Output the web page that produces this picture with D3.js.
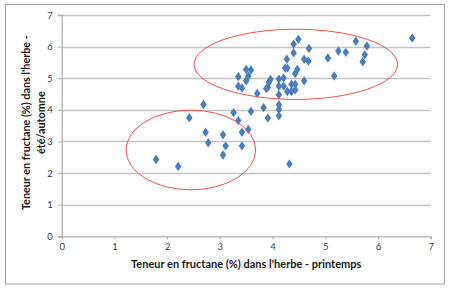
<!DOCTYPE html>
<html>
<head>
<meta charset="utf-8">
<script src="https://cdn.jsdelivr.net/npm/d3@7"></script>
<style>
  body { margin: 0; background: #fff; }
  text { font-family: Lato, "Open Sans", sans-serif; }
</style>
</head>
<body>
<div id="chart"></div>
<script>
// printemps (x) / ete-automne (y)
const springValues = [1.79, 2.21, 2.42, 2.69, 2.73, 2.78, 3.06, 3.06, 3.11, 3.26, 3.35, 3.35, 3.35, 3.42, 3.42, 3.42,
  3.50, 3.50, 3.54, 3.54, 3.59, 3.59, 3.71, 3.83, 3.88, 3.91, 3.91, 3.93, 3.96, 4.12, 4.12, 4.12, 4.12, 4.12, 4.12,
  4.21, 4.21, 4.24, 4.28, 4.27, 4.28, 4.32, 4.36, 4.36, 4.40, 4.40, 4.43, 4.43, 4.43, 4.47, 4.49, 4.60, 4.60, 4.68,
  4.69, 5.05, 5.17, 5.25, 5.39, 5.58, 5.71, 5.75, 5.79, 6.65];
const autumnValues = [2.43, 2.21, 3.75, 4.17, 3.29, 2.96, 3.21, 2.57, 2.86, 3.91, 3.66, 5.05, 4.75, 4.69, 3.29, 2.86,
  5.28, 4.92, 5.07, 3.38, 5.26, 3.95, 4.52, 4.07, 4.67, 4.71, 3.74, 4.87, 4.96, 4.97, 4.75, 4.48, 4.16, 4.01, 3.81,
  5.01, 4.75, 5.32, 5.32, 5.60, 4.58, 2.29, 4.58, 4.81, 5.80, 6.08, 5.15, 4.63, 4.81, 5.28, 6.23, 5.60, 4.92, 5.54,
  5.94, 5.64, 5.07, 5.86, 5.82, 6.17, 5.52, 5.74, 6.02, 6.27];
const xTicks = [0, 1, 2, 3, 4, 5, 6, 7];
const yTicks = [0, 1, 2, 3, 4, 5, 6, 7];
// groupes entoures: centre x, centre y, demi-axe x, demi-axe y (en unites des donnees)
const groupCx = [4.44, 2.45];
const groupCy = [5.44, 2.73];
const groupRx = [1.93, 1.23];
const groupRy = [1.11, 1.26];

const data = springValues.map((x, i) => ({ x: x, y: autumnValues[i] }));

const W = 450, H = 288;
const margin = { top: 15, right: 19.3, bottom: 51.7, left: 61.7 };
const width = W - margin.left - margin.right;
const height = H - margin.top - margin.bottom;

const root = d3.select("#chart").append("svg")
  .attr("width", W)
  .attr("height", H);

root.append("rect")
  .attr("x", 5.5).attr("y", 4.5)
  .attr("width", 439).attr("height", 279.5)
  .attr("fill", "#fff")
  .attr("stroke", "#a6a6a6")
  .attr("stroke-width", 1);

const svg = root.append("g")
  .attr("transform", `translate(${margin.left}, ${margin.top})`);

const xScale = d3.scaleLinear().domain([0, 7]).range([0, width]);
const yScale = d3.scaleLinear().domain([0, 7]).range([height, 0]);

// grille horizontale
svg.append("g")
  .selectAll("line")
  .data(yTicks.filter(d => d > 0))
  .join("line")
  .attr("x1", 0)
  .attr("x2", width)
  .attr("y1", d => Math.round(yScale(d)) + 0.5)
  .attr("y2", d => Math.round(yScale(d)) + 0.5)
  .attr("stroke", "#c4c4c4")
  .attr("stroke-width", 1.3);

const xAxis = svg.append("g")
  .attr("transform", `translate(0, ${height})`)
  .call(d3.axisBottom(xScale).tickValues(xTicks).tickSize(3).tickPadding(4).tickFormat(d3.format("d")));

const yAxis = svg.append("g")
  .call(d3.axisLeft(yScale).tickValues(yTicks).tickSize(4).tickPadding(5).tickFormat(d3.format("d")));

[xAxis, yAxis].forEach(a => {
  a.select(".domain").attr("stroke", "#b0b0b0").attr("stroke-width", 1.3);
  a.selectAll(".tick line").attr("stroke", "#b0b0b0");
  a.selectAll(".tick text")
    .attr("fill", "#404040")
    .style("font-size", "9.5px")
    .style("font-family", "Lato, sans-serif");
});

// points
const diamond = d3.symbol().type(d3.symbolDiamond).size(28);
svg.append("g")
  .selectAll("path")
  .data(data)
  .join("path")
  .attr("d", diamond)
  .attr("transform", d => `translate(${xScale(d.x)}, ${yScale(d.y)}) scale(1.15, 0.95)`)
  .attr("fill", "#4a7ebb");

// ellipses
svg.append("g")
  .selectAll("ellipse")
  .data(groupCx.map((cx, i) => ({ cx: cx, cy: groupCy[i], rx: groupRx[i], ry: groupRy[i] })))
  .join("ellipse")
  .attr("cx", d => xScale(d.cx))
  .attr("cy", d => yScale(d.cy))
  .attr("rx", d => xScale(d.rx) - xScale(0))
  .attr("ry", d => yScale(0) - yScale(d.ry))
  .attr("fill", "none")
  .attr("stroke", "#f25050")
  .attr("stroke-width", 1);

// titres
svg.append("text")
  .attr("x", width / 2)
  .attr("y", height + 32)
  .style("text-anchor", "middle")
  .style("font-size", "11px")
  .style("font-weight", "bold")
  .attr("fill", "#1a1a1a")
  .text("Teneur en fructane (%) dans l'herbe - printemps");

const yTitle = svg.append("text")
  .attr("transform", `translate(${-margin.left + 30}, ${height / 2 - 3}) rotate(-90)`)
  .style("text-anchor", "middle")
  .style("font-size", "10.8px")
  .style("font-weight", "bold")
  .attr("fill", "#1a1a1a");
yTitle.append("tspan").attr("x", 0).attr("y", 0).text("Teneur en fructane (%) dans l'herbe -");
yTitle.append("tspan").attr("x", 0).attr("y", 14.5).text("été/automne");
</script>
</body>
</html>
